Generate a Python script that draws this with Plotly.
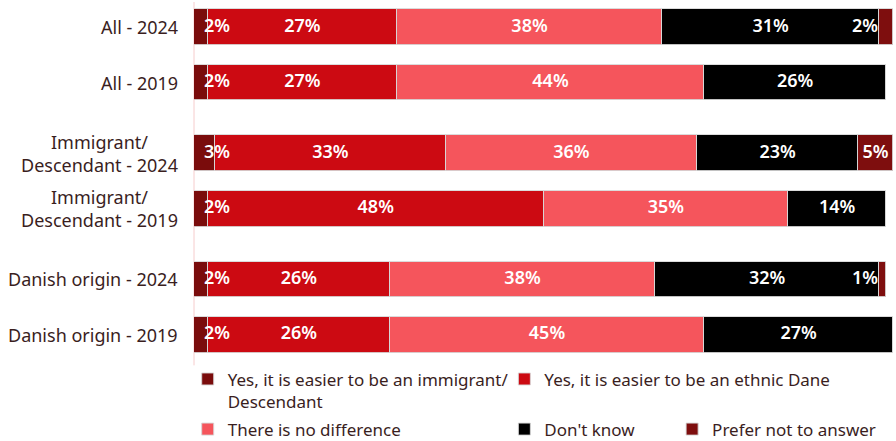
import plotly.graph_objects as go

# ---------------- data ----------------
categories = [
    "All - 2024",
    "All - 2019",
    "Immigrant/<br>Descendant - 2024",
    "Immigrant/<br>Descendant - 2019",
    "Danish origin - 2024",
    "Danish origin - 2019",
]
groups = [0, 0, 1, 1, 2, 2]

series_names = [
    "Yes, it is easier to be an immigrant/<br>Descendant",
    "Yes, it is easier to be an ethnic Dane",
    "There is no difference",
    "Don't know",
    "Prefer not to answer",
]
easier_immigrant = [2, 2, 3, 2, 2, 2]
easier_dane = [27, 27, 33, 48, 26, 26]
no_difference = [38, 44, 36, 35, 38, 45]
dont_know = [31, 26, 23, 14, 32, 27]
prefer_not = [2, 0, 5, 0, 1, 0]

series_values = [easier_immigrant, easier_dane, no_difference, dont_know, prefer_not]
colors = ["#7a0c0c", "#cc0a12", "#f5555c", "#000000", "#7e0e0e"]

# ---------------- layout helpers ----------------
GROUP_GAP = 0.27
ypos = [i + GROUP_GAP * g for i, g in enumerate(groups)]

FONT = "Noto Sans"
LABEL_COLOR = "#3a1e1e"

fig = go.Figure()

legend_ids = ["legend", "legend2", "legend3", "legend4", "legend5"]
for name, vals, col, lg in zip(series_names, series_values, colors, legend_ids):
    fig.add_trace(go.Bar(
        y=ypos, x=vals, name=name, orientation="h",
        marker=dict(color=col, line=dict(color="rgba(215,215,215,0.9)", width=1)),
        width=0.64, legend=lg, hoverinfo="x+name",
    ))

# value labels (positioned from the data, kept inside the bar)
lx, ly, lt = [], [], []
for r in range(len(categories)):
    start = 0
    for s in series_values:
        v = s[r]
        if v > 0:
            mid = start + v / 2
            mid = max(mid, 3.3)
            if v < 4 and start > 50:
                mid = min(mid, 96.0)
            lx.append(mid)
            ly.append(ypos[r])
            lt.append(f"{v}%")
        start += v
fig.add_trace(go.Scatter(
    x=lx, y=ly, text=lt, mode="text", showlegend=False, hoverinfo="skip",
    textfont=dict(family=FONT, size=18, color="white", weight=600),
    textposition="middle center",
))

# category labels (centered multi-line, right-anchored)
for cat, y in zip(categories, ypos):
    fig.add_annotation(
        x=0, xref="paper", y=y, yref="y", text=cat, showarrow=False,
        xanchor="right", yanchor="middle", align="center", xshift=-14,
        font=dict(family=FONT, size=18, color=LABEL_COLOR),
    )

legend_common = dict(
    orientation="h", xanchor="left", yanchor="top", valign="top",
    font=dict(family=FONT, size=17, color=LABEL_COLOR),
    bgcolor="rgba(0,0,0,0)", itemwidth=30, tracegroupgap=0,
    itemclick=False, itemdoubleclick=False,
)
legend_pos = [(-0.009, -0.004), (0.444, -0.004), (-0.009, -0.144), (0.444, -0.144), (0.684, -0.144)]
layout_legends = {}
for lg, (x, y) in zip(legend_ids, legend_pos):
    layout_legends[lg] = dict(legend_common, x=x, y=y)

fig.update_layout(
    width=896, height=441,
    margin=dict(l=194, r=3, t=2, b=81, autoexpand=False),
    barmode="stack",
    bargap=0,
    plot_bgcolor="white", paper_bgcolor="white",
    xaxis=dict(range=[0, 100], visible=False, fixedrange=True),
    yaxis=dict(
        range=[max(ypos) + 0.45, -0.45], showticklabels=False, showgrid=False,
        zeroline=False, showline=False, fixedrange=True,
    ),
    shapes=[dict(type="line", xref="paper", yref="paper", x0=0, x1=0, y0=-0.015, y1=1,
                 line=dict(color="#f6cccc", width=1), layer="below")],
    **layout_legends,
)

fig.write_html("out.html")
